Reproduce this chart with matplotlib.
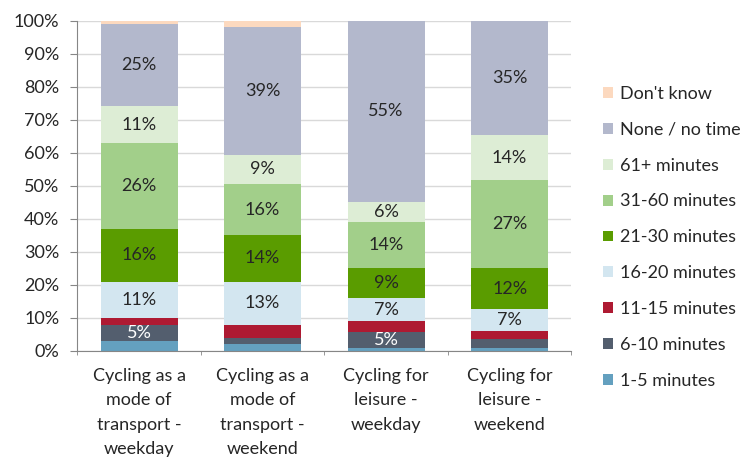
import matplotlib
matplotlib.use("Agg")
import matplotlib.pyplot as plt
import numpy as np
from matplotlib.patches import Patch

plt.rcParams['font.family'] = ['Lato', 'DejaVu Sans']

categories = ["Cycling as a\nmode of\ntransport -\nweekday",
              "Cycling as a\nmode of\ntransport -\nweekend",
              "Cycling for\nleisure -\nweekday",
              "Cycling for\nleisure -\nweekend"]

series_names = ["1-5 minutes", "6-10 minutes", "11-15 minutes", "16-20 minutes",
                "21-30 minutes", "31-60 minutes", "61+ minutes", "None / no time",
                "Don't know"]

s_1_5 = [3.0, 2.1, 0.9, 1.0]
s_6_10 = [5.0, 1.7, 4.9, 2.7]
s_11_15 = [2.0, 4.2, 3.3, 2.2]
s_16_20 = [11.0, 13.0, 6.9, 6.9]
s_21_30 = [16.0, 14.0, 9.0, 12.2]
s_31_60 = [26.0, 15.6, 14.0, 26.7]
s_61 = [11.0, 8.8, 6.0, 13.7]
s_none = [25.0, 38.6, 55.0, 34.6]
s_dk = [1.0, 2.0, 0.0, 0.0]

series = [s_1_5, s_6_10, s_11_15, s_16_20, s_21_30, s_31_60, s_61, s_none, s_dk]
colors = ["#64A0BF", "#535E6E", "#AE1A32", "#D3E6F0", "#5A9C00", "#A2CF8A",
          "#DDEDD5", "#B3B8CC", "#FCD9BF"]
label_colors = ["#262626", "#FFFFFF", "#262626", "#262626", "#262626", "#262626",
                "#262626", "#262626", "#262626"]

fig = plt.figure(figsize=(7.44, 4.57), dpi=100)
ax = fig.add_axes([0.104, 0.232, 0.664, 0.723])

x = np.arange(len(categories))
bottom = np.zeros(len(categories))
fs = 13
for vals, col, lc in zip(series, colors, label_colors):
    vals = np.array(vals)
    ax.bar(x, vals, width=0.625, bottom=bottom, color=col, zorder=2)
    for xi, v, b in zip(x, vals, bottom):
        if v >= 4.5:
            ax.text(xi, b + v / 2, f"{round(v)}%", ha='center', va='center',
                    color=lc, fontsize=fs, zorder=3)
    bottom += vals

ax.set_xlim(-0.5, len(categories) - 0.5)
ax.set_ylim(0, 100)
ax.set_yticks(np.arange(0, 101, 10))
ax.set_yticklabels([f"{v}%" for v in range(0, 101, 10)], fontsize=fs, color="#262626")
ax.set_xticks(x)
ax.set_xticklabels(categories, fontsize=fs, color="#262626", linespacing=1.66)
ax.set_xticks(np.arange(-0.5, len(categories), 1), minor=True)
ax.tick_params(axis='x', which='major', length=0, pad=12)
ax.tick_params(axis='x', which='minor', length=3, color="#868686")
ax.tick_params(axis='y', length=5, color="#868686", pad=8)
ax.grid(axis='y', color="#D9D9D9", linewidth=1, zorder=0)
for sp in ['top', 'right']:
    ax.spines[sp].set_visible(False)
for sp in ['left', 'bottom']:
    ax.spines[sp].set_color("#868686")

handles = [Patch(facecolor=c, label=n) for c, n in zip(colors, series_names)]
handles = handles[::-1]
leg = fig.legend(handles=handles, loc='upper left', bbox_to_anchor=(0.81, 0.812),
                 frameon=False, fontsize=fs, labelspacing=1.1,
                 handlelength=0.55, handleheight=0.55, handletextpad=0.4,
                 borderaxespad=0, borderpad=0)
for t in leg.get_texts():
    t.set_color("#262626")

fig.savefig("out.png", dpi=100)
